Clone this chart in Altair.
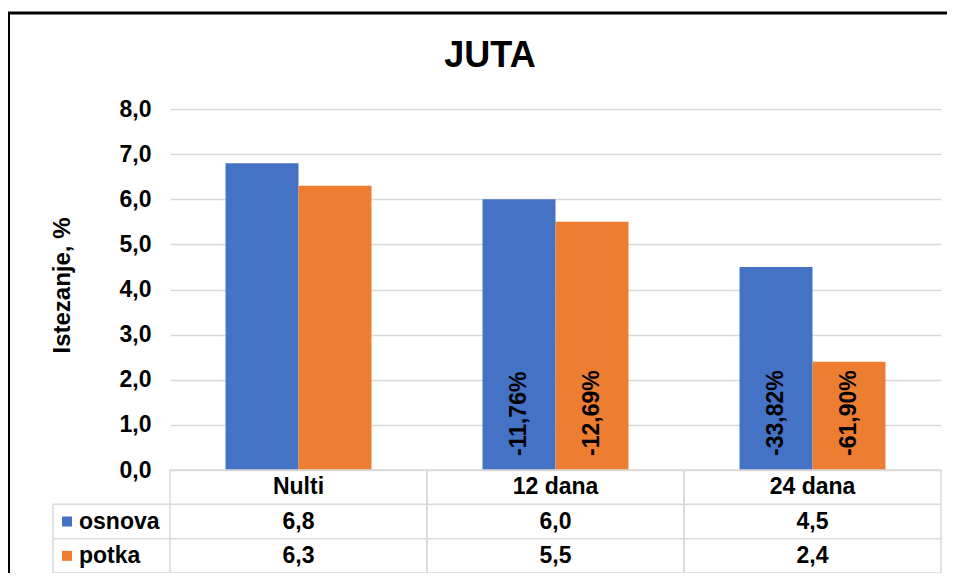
import altair as alt
import pandas as pd

# ---- data ----
categories = ["Nulti", "12 dana", "24 dana"]
series = ["osnova", "potka"]
osnova = [6.8, 6.0, 4.5]
potka = [6.3, 5.5, 2.4]
osnova_change = ["", "-11,76%", "-33,82%"]
potka_change = ["", "-12,69%", "-61,90%"]
colors = ["#4472C4", "#ED7D31"]
y_ticks = [0, 1, 2, 3, 4, 5, 6, 7, 8]
table_rows = ["hdr", "osnova", "potka"]

rows = []
for s, vals, ch in [("osnova", osnova, osnova_change), ("potka", potka, potka_change)]:
    for c, v, p in zip(categories, vals, ch):
        rows.append({"cat": c, "series": s, "value": v, "change": p})
df = pd.DataFrame(rows)

W, H = 771, 361
FONT = "Liberation Sans"
GRID = "#d9d9d9"
FS = 23

# ---- bars ----
xband = alt.X("cat:N", sort=categories,
              scale=alt.Scale(domain=categories, paddingInner=0.432, paddingOuter=0.216),
              axis=None)
xoff = alt.XOffset("series:N", sort=series,
                   scale=alt.Scale(domain=series, paddingInner=0, paddingOuter=0))
color = alt.Color("series:N", scale=alt.Scale(domain=series, range=colors), legend=None)

yq = alt.Y("value:Q",
           scale=alt.Scale(domain=[0, 8], nice=False, zero=True),
           axis=alt.Axis(values=y_ticks, labelExpr="replace(format(datum.value, '.1f'), '.', ',')",
                         title="Istezanje, %", titleX=-108, titleY=176, titleAngle=270,
                         titleAlign="center", titleBaseline="middle",
                         titleFont=FONT, titleFontSize=24, titleFontWeight="bold", titleColor="black",
                         labelFont=FONT, labelFontSize=FS, labelFontWeight="bold", labelColor="black",
                         labelPadding=19, ticks=False, domain=False,
                         grid=True, gridColor=GRID, gridWidth=1.3))

bars = alt.Chart(df).mark_bar(opacity=1).encode(x=xband, xOffset=xoff, y=yq, color=color)

labels = alt.Chart(df).transform_filter("datum.change != ''").mark_text(
    angle=270, align="left", baseline="middle", dx=14,
    font=FONT, fontSize=FS, fontWeight="bold", color="black"
).encode(x=xband, xOffset=xoff, y=alt.datum(0), text="change:N")

bar_group = alt.layer(bars, labels)

# ---- data table below ----
tx = alt.Scale(domain=categories, paddingInner=0, paddingOuter=0)
ty = alt.Scale(domain=table_rows, range=[361, 464], paddingInner=0, paddingOuter=0)

hdr = pd.DataFrame({"cat": categories, "row": ["hdr"] * 3, "label": categories})
vals_df = df.assign(row=df["series"])

ttxt_style = dict(font=FONT, fontSize=FS, fontWeight="bold", color="black", baseline="middle")

hdr_text = alt.Chart(hdr).mark_text(**ttxt_style).encode(
    x=alt.X("cat:N", scale=tx, axis=None),
    y=alt.Y("row:N", scale=ty, axis=None),
    text="label:N")

val_text = alt.Chart(vals_df).transform_calculate(
    label="replace(format(datum.value, '.1f'), '.', ',')"
).mark_text(**ttxt_style).encode(
    x=alt.X("cat:N", scale=tx, axis=None),
    y=alt.Y("row:N", scale=ty, axis=None),
    text="label:N")

leg_df = pd.DataFrame({"row": series, "series": series})
leg_sq = alt.Chart(leg_df).mark_square(size=100, opacity=1).encode(
    x=alt.value(-103), y=alt.Y("row:N", scale=ty, axis=None), color=color)
leg_tx = alt.Chart(leg_df).mark_text(align="left", **ttxt_style).encode(
    x=alt.value(-91), y=alt.Y("row:N", scale=ty, axis=None), text="row:N")

rule_style = dict(color=GRID, strokeWidth=1.5)
h_rows = alt.Chart(pd.DataFrame({"row": ["osnova", "potka"]})).mark_rule(**rule_style).encode(
    y=alt.Y("row:N", scale=ty, axis=None, bandPosition=0), x=alt.value(-117), x2=alt.value(W))
h_bottom = alt.Chart(pd.DataFrame({"row": ["potka"]})).mark_rule(**rule_style).encode(
    y=alt.Y("row:N", scale=ty, axis=None, bandPosition=1), x=alt.value(-117), x2=alt.value(W))
h_top = alt.Chart(pd.DataFrame({"row": ["hdr"]})).mark_rule(**rule_style).encode(
    y=alt.Y("row:N", scale=ty, axis=None, bandPosition=0), x=alt.value(0), x2=alt.value(W))
vdf = pd.DataFrame({"cat": categories, "row": ["hdr"] * 3})
v_left = alt.Chart(vdf).mark_rule(**rule_style).encode(
    x=alt.X("cat:N", scale=tx, axis=None, bandPosition=0),
    y=alt.Y("row:N", scale=ty, axis=None, bandPosition=0), y2=alt.value(464))
v_right = alt.Chart(vdf).mark_rule(**rule_style).encode(
    x=alt.X("cat:N", scale=tx, axis=None, bandPosition=1),
    y=alt.Y("row:N", scale=ty, axis=None, bandPosition=0), y2=alt.value(464))
v_legend = alt.Chart(pd.DataFrame({"row": ["osnova"]})).mark_rule(**rule_style).encode(
    x=alt.value(-117), y=alt.Y("row:N", scale=ty, axis=None, bandPosition=0), y2=alt.value(464))

table_group = alt.layer(h_rows, h_bottom, h_top, v_left, v_right, v_legend,
                        hdr_text, val_text, leg_sq, leg_tx)

# ---- frame and title ----
one = pd.DataFrame({"a": [0]})
frame_left = alt.Chart(one).mark_rule(color="black", strokeWidth=3).encode(
    x=alt.value(-161.5), y=alt.value(-96), y2=alt.value(480))
frame_top = alt.Chart(one).mark_rule(color="black", strokeWidth=3).encode(
    x=alt.value(-163), x2=alt.value(800), y=alt.value(-96))
title = alt.Chart(pd.DataFrame({"t": ["JUTA"]})).mark_text(
    font=FONT, fontSize=36, fontWeight="bold", color="black", baseline="alphabetic", align="center"
).encode(x=alt.value(320), y=alt.value(-42), text="t:N")

chart = alt.layer(bar_group, table_group, frame_left, frame_top, title).resolve_scale(
    x="independent", y="independent"
).properties(
    width=W, height=H,
    autosize=alt.AutoSizeParams(type="none"),
    padding={"left": 162, "top": 101, "right": 6, "bottom": 103},
    background="white",
).configure_view(strokeWidth=0)

chart.save("out.html", embed_options={"renderer": "svg", "actions": False})
